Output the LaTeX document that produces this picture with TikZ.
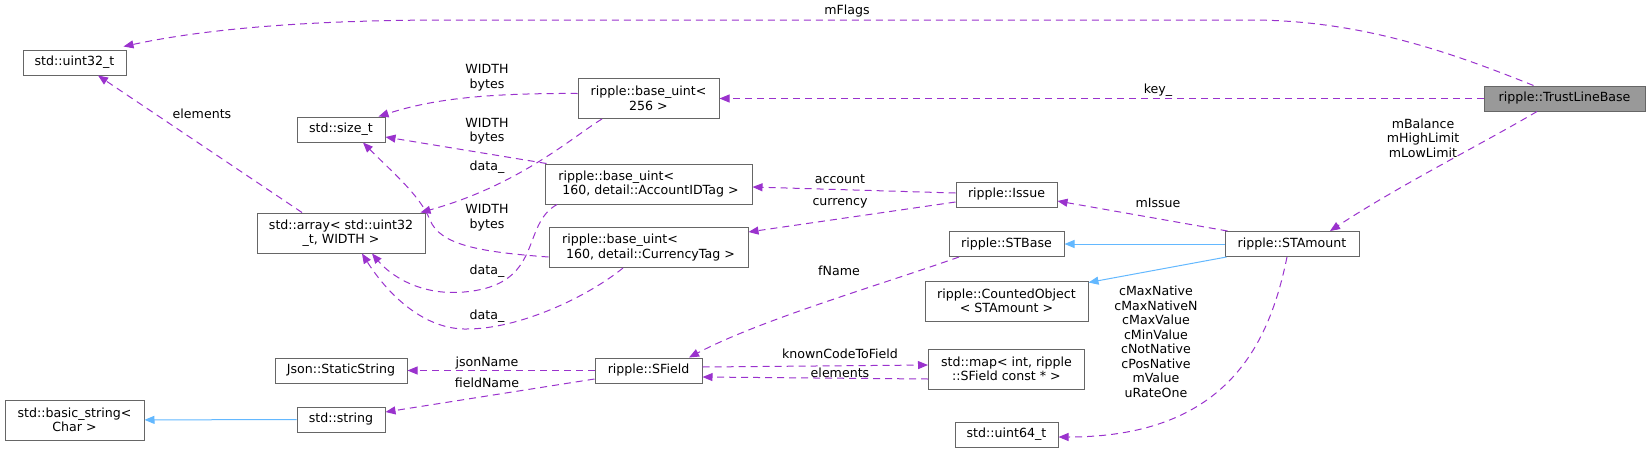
\documentclass[tikz,border=0pt]{standalone}
\usepackage{fontspec}
\setmainfont{DejaVu Sans}
\usepackage{tikz}
\usetikzlibrary{arrows.meta, positioning, calc}
\definecolor{orchidcolor}{HTML}{9A32CD}
\definecolor{skycolor}{HTML}{63B8FF}
\definecolor{framecolor}{HTML}{666666}
\definecolor{shadecolor}{HTML}{999999}

\begin{document}
\begin{tikzpicture}[x=1pt, y=-1pt,
  classbox/.style={draw=framecolor, fill=white, line width=1pt, inner sep=0pt,
    align=center, font=\fontsize{12.6}{14.5}\selectfont},
  edgetext/.style={inner sep=0pt, align=center, font=\fontsize{12.6}{14.5}\selectfont},
  member/.style={draw=orchidcolor, line width=1pt, dash pattern=on 7pt off 5pt,
    -{Triangle[length=10pt, width=8pt]}},
  inherit/.style={draw=skycolor, line width=1pt, -{Triangle[length=10pt, width=8pt]}}]
  \useasboundingbox (0,0) rectangle (1647,453);

  \node[classbox, minimum width=103pt, minimum height=25pt] (uint32) at (74.5,62.5) {std::uint32\_t};
  \node[classbox, minimum width=139pt, minimum height=40pt] (basicstr) at (74.5,420) {std::basic\_string<\\Char >};
  \node[classbox, minimum width=88pt, minimum height=25pt] (sizet) at (341,129.5) {std::size\_t};
  \node[classbox, minimum width=168pt, minimum height=40pt] (stdarray) at (341,233) {std::array< std::uint32\\\_t, WIDTH >};
  \node[classbox, minimum width=132pt, minimum height=25pt] (jsonstr) at (341,370.5) {Json::StaticString};
  \node[classbox, minimum width=88pt, minimum height=25pt] (stdstring) at (341,419.5) {std::string};
  \node[classbox, minimum width=141pt, minimum height=40pt] (uint256) at (648.5,98.5) {ripple::base\_uint<\\256 >};
  \node[classbox, minimum width=207pt, minimum height=40pt, align=left] (acctid) at (648.5,184)
    {ripple::base\_uint<\\\hspace*{4pt}160, detail::AccountIDTag >};
  \node[classbox, minimum width=199pt, minimum height=40pt, align=left] (currtag) at (648.5,247.5)
    {ripple::base\_uint<\\\hspace*{4pt}160, detail::CurrencyTag >};
  \node[classbox, minimum width=107pt, minimum height=25pt] (sfield) at (648.5,370.5) {ripple::SField};
  \node[classbox, minimum width=101pt, minimum height=25pt] (issue) at (1006.5,194.5) {ripple::Issue};
  \node[classbox, minimum width=115pt, minimum height=25pt] (stbase) at (1006.5,244) {ripple::STBase};
  \node[classbox, minimum width=163pt, minimum height=40pt] (counted) at (1006.5,301) {ripple::CountedObject\\< STAmount >};
  \node[classbox, minimum width=156pt, minimum height=40pt] (fieldmap) at (1006.5,369) {std::map< int, ripple\\::SField const * >};
  \node[classbox, minimum width=103pt, minimum height=25pt] (uint64) at (1006.5,434.5) {std::uint64\_t};
  \node[classbox, minimum width=134pt, minimum height=25pt] (stamount) at (1292,244) {ripple::STAmount};
  \node[classbox, minimum width=161pt, minimum height=25pt, fill=shadecolor] (trustbase) at (1564.5,98.5) {ripple::TrustLineBase};

  \draw[member] ([xshift=-31pt]trustbase.north) .. controls (1450,52) and (1360,20) .. (1250,20)
    -- (450,20) .. controls (300,20) and (200,30) .. ([xshift=-3pt, yshift=3pt]uint32.north east);
  \node[edgetext] (lflags) at (847,11) {mFlags};
  \draw[member] (trustbase) -- (uint256);
  \node[edgetext] (lkey) at (1158,90) {key\_};
  \draw[member] ([xshift=-27.5pt]trustbase.south) .. controls (1480,145) and (1400,185) .. ([xshift=38pt]stamount.north);
  \node[edgetext] (lbalance) at (1423,138) {mBalance\\mHighLimit\\mLowLimit};

  \draw[member] ([xshift=3pt]stamount.north west) -- ([yshift=-6.5pt]issue.east);
  \node[edgetext] (lissue) at (1158,203) {mIssue};
  \draw[inherit] (stamount) -- (stbase);
  \draw[inherit] ([xshift=2pt]stamount.south west) -- ([yshift=-2pt]counted.north east);
  \draw[member] ([xshift=-5pt]stamount.south) .. controls (1270,340) and (1230,437) .. ([yshift=-2.5pt]uint64.east);
  \node[edgetext] (lconst) at (1156,342)
    {cMaxNative\\cMaxNativeN\\cMaxValue\\cMinValue\\cNotNative\\cPosNative\\mValue\\uRateOne};

  \draw[member] ([yshift=1.5pt]issue.west) -- ([yshift=-3pt]acctid.east);
  \node[edgetext] (laccount) at (840,179) {account};
  \draw[member] ([yshift=-7.5pt]issue.west) -- ([yshift=15.5pt]currtag.east);
  \node[edgetext] (lcurrency) at (840,203) {currency};
  \draw[member] ([xshift=-47.5pt]stbase.south) .. controls (880,285) and (760,320) .. ([xshift=40.5pt]sfield.north);
  \node[edgetext] (lfname) at (839,271) {fName};

  \draw[member] ([yshift=3.5pt]sfield.east) -- ([yshift=4pt]fieldmap.west);
  \node[edgetext] (lknown) at (840,354) {knownCodeToField};
  \draw[member] ([yshift=-10pt]fieldmap.west) -- ([yshift=-6.5pt]sfield.east);
  \node[edgetext] (lmapelems) at (840,373) {elements};
  \draw[member] (sfield) -- (jsonstr);
  \node[edgetext] (ljson) at (487,363) {jsonName};
  \draw[member] ([yshift=-8.5pt]sfield.west) -- ([yshift=7.5pt]stdstring.east);
  \node[edgetext] (lfield) at (487,383) {fieldName};
  \draw[inherit] (stdstring) -- (basicstr);

  \draw[member] ([yshift=5pt]uint256.west) .. controls (480,93) and (430,100) .. ([xshift=-7pt]sizet.north east);
  \node[edgetext] (lwidtha) at (487,77.5) {WIDTH\\bytes};
  \draw[member] ([xshift=-46.5pt]uint256.south) .. controls (575,135) and (520,185) .. ([xshift=-5pt]stdarray.north east);
  \node[edgetext] (ldataa) at (487,167) {data\_};
  \draw[member] ([xshift=2pt]acctid.north west) -- ([yshift=-7.5pt]sizet.east);
  \node[edgetext] (lwidthb) at (487,131) {WIDTH\\bytes};
  \draw[member] ([xshift=-91.5pt]acctid.south) .. controls (520,225) and (545,285) .. (464,292)
    .. controls (420,296) and (390,275) .. ([xshift=31pt]stdarray.south);
  \node[edgetext] (ldatab) at (487,271) {data\_};
  \draw[member] ([yshift=-9.5pt]currtag.west) .. controls (480,252) and (440,245) .. (430,220)
    .. controls (420,195) and (390,170) .. ([xshift=22pt]sizet.south);
  \node[edgetext] (lwidthc) at (487,217.5) {WIDTH\\bytes};
  \draw[member] ([xshift=-25.5pt]currtag.south) .. controls (590,295) and (520,330) .. (464,329)
    .. controls (420,328) and (385,290) .. ([xshift=21pt]stdarray.south);
  \node[edgetext] (ldatac) at (487,316) {data\_};
  \draw[member] ([xshift=-39pt]stdarray.north) -- ([xshift=23.5pt]uint32.south);
  \node[edgetext] (lelems) at (202,114) {elements};
\end{tikzpicture}
\end{document}
